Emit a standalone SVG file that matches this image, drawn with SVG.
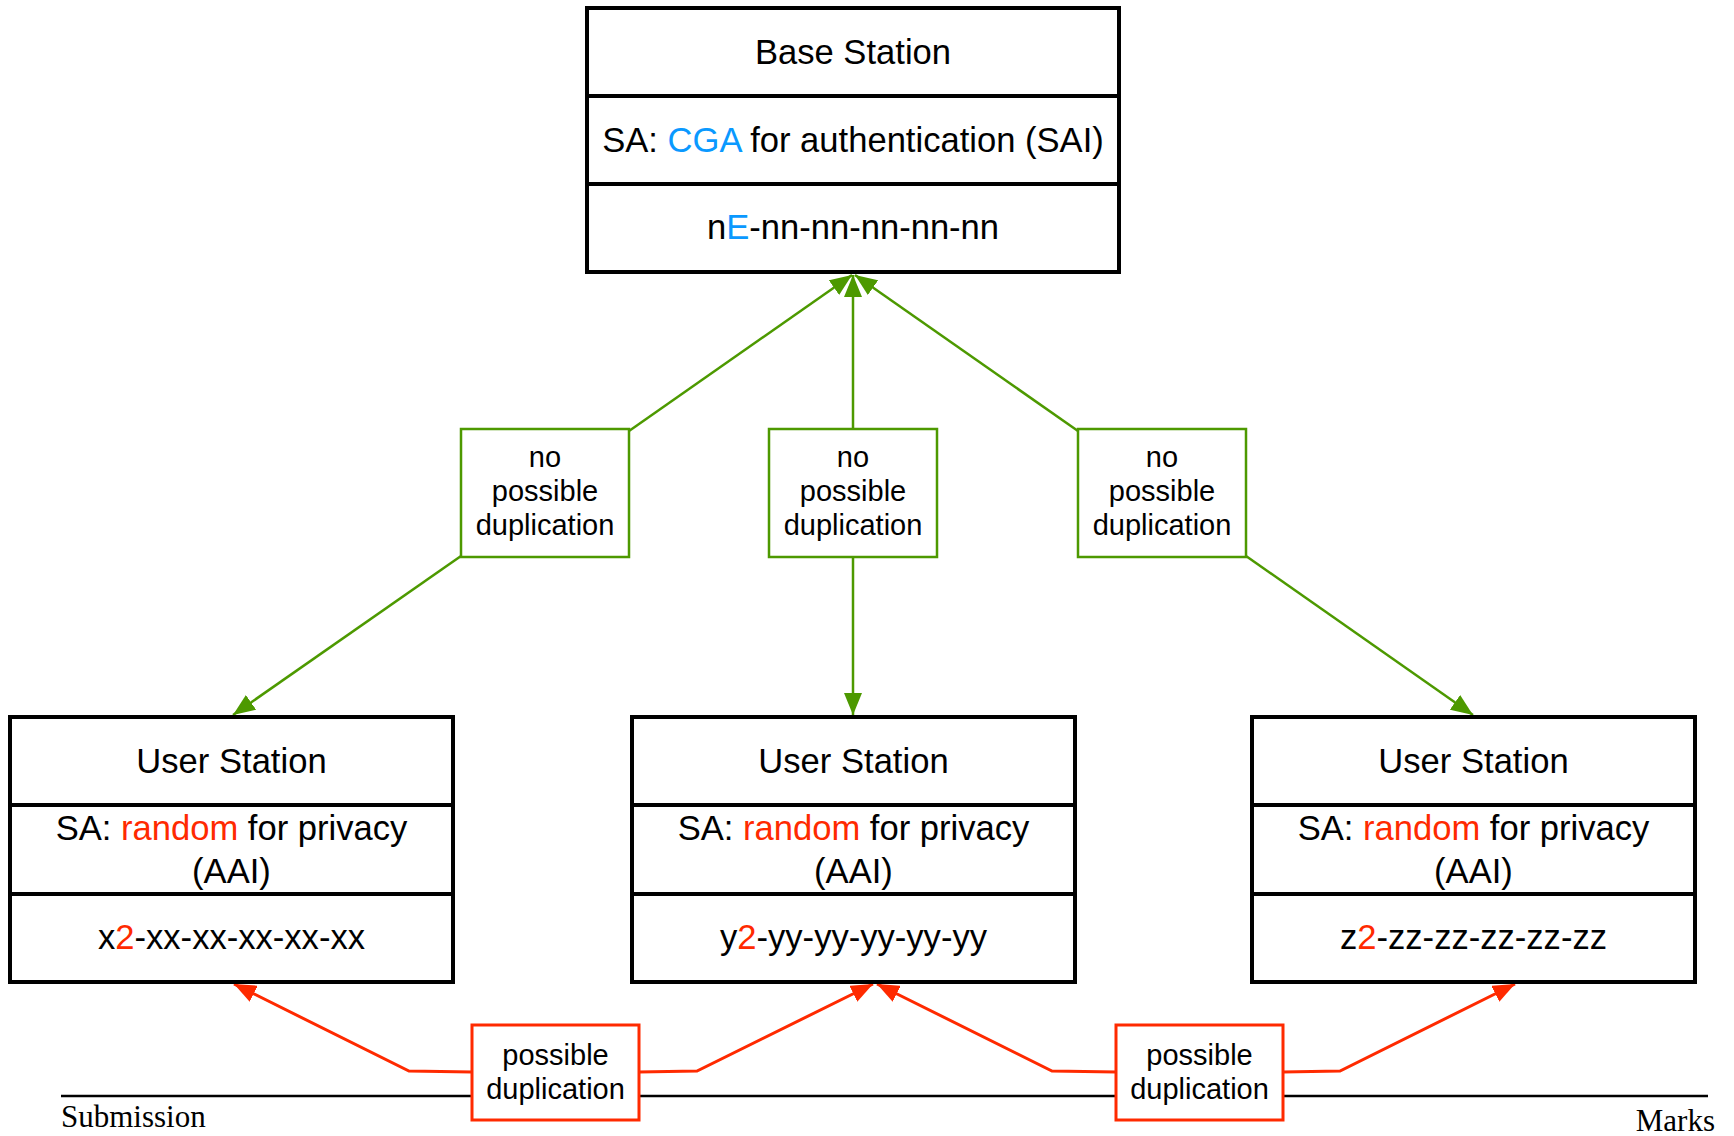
<svg xmlns="http://www.w3.org/2000/svg" width="1734" height="1136" viewBox="0 0 1734 1136">
  <style>
    .box { fill: #ffffff; stroke: #000000; stroke-width: 4; }
    .div { stroke: #000000; stroke-width: 4; }
    .t { font-family: "Liberation Sans", Arial, Helvetica, sans-serif; font-size: 34.6px; fill: #000000; text-anchor: middle; }
    .lbl { font-family: "Liberation Sans", Arial, Helvetica, sans-serif; font-size: 29px; fill: #000000; text-anchor: middle; }
    .blue { fill: #0A99FF; }
    .red { fill: #FF2A00; }
    .gbox { fill: #ffffff; stroke: #4D9900; stroke-width: 2.5; }
    .rbox { fill: #ffffff; stroke: #FF2A00; stroke-width: 3; }
    .gline { fill: none; stroke: #4D9900; stroke-width: 2.5; marker-end: url(#arrowG); }
    .rline { fill: none; stroke: #FF2A00; stroke-width: 3; marker-end: url(#arrowR); }
    .serif { font-family: "Liberation Serif", "Times New Roman", serif; font-size: 31px; fill: #000000; }
  </style>
  <defs>
    <marker id="arrowG" viewBox="0 0 22 18" refX="22" refY="9" markerWidth="22" markerHeight="18" markerUnits="userSpaceOnUse" orient="auto">
      <path d="M0,0 L22,9 L0,18 Z" fill="#4D9900"/>
    </marker>
    <marker id="arrowR" viewBox="0 0 22 18" refX="22" refY="9" markerWidth="22" markerHeight="18" markerUnits="userSpaceOnUse" orient="auto">
      <path d="M0,0 L22,9 L0,18 Z" fill="#FF2A00"/>
    </marker>
  </defs>

  <rect width="1734" height="1136" fill="#ffffff"/>

  <!-- page rule with footer texts -->
  <g id="page-rule">
    <line x1="61" y1="1096" x2="1708" y2="1096" stroke="#000000" stroke-width="2.5"/>
    <text class="serif" x="61" y="1127">Submission</text>
    <text class="serif" x="1715" y="1131" text-anchor="end">Marks</text>
  </g>

  <!-- connectors -->
  <g id="connectors">
    <line class="gline" x1="629" y1="431" x2="852" y2="275"/>
    <line class="gline" x1="853" y1="429" x2="853" y2="275"/>
    <line class="gline" x1="1078" y1="431" x2="855" y2="275"/>
    <line class="gline" x1="461" y1="556" x2="233" y2="715"/>
    <line class="gline" x1="853" y1="557" x2="853" y2="715"/>
    <line class="gline" x1="1246" y1="556" x2="1473" y2="715"/>
    <polyline class="rline" points="472,1072 409,1071 234,984"/>
    <polyline class="rline" points="639,1072 697,1071 873,984"/>
    <polyline class="rline" points="1116,1072 1052,1071 877,984"/>
    <polyline class="rline" points="1283,1072 1340,1071 1515,984"/>
  </g>

  <!-- base station -->
  <g id="base-station">
    <rect class="box" x="587" y="8" width="532" height="264"/>
    <line class="div" x1="587" y1="96" x2="1119" y2="96"/>
    <line class="div" x1="587" y1="184" x2="1119" y2="184"/>
    <text class="t" x="853" y="64">Base Station</text>
    <text class="t" x="853" y="152">SA: <tspan class="blue">CGA</tspan> for authentication (SAI)</text>
    <text class="t" x="853" y="239">n<tspan class="blue">E</tspan>-nn-nn-nn-nn-nn</text>
  </g>

  <!-- user stations -->
  <g id="user-station-x">
    <rect class="box" x="10" y="717" width="443" height="265"/>
    <line class="div" x1="10" y1="805" x2="453" y2="805"/>
    <line class="div" x1="10" y1="894" x2="453" y2="894"/>
    <text class="t" x="231.5" y="773">User Station</text>
    <text class="t" x="231.5" y="840">SA: <tspan class="red">random</tspan> for privacy</text>
    <text class="t" x="231.5" y="883">(AAI)</text>
    <text class="t" x="231.5" y="949">x<tspan class="red">2</tspan>-xx-xx-xx-xx-xx</text>
  </g>
  <g id="user-station-y">
    <rect class="box" x="632" y="717" width="443" height="265"/>
    <line class="div" x1="632" y1="805" x2="1075" y2="805"/>
    <line class="div" x1="632" y1="894" x2="1075" y2="894"/>
    <text class="t" x="853.5" y="773">User Station</text>
    <text class="t" x="853.5" y="840">SA: <tspan class="red">random</tspan> for privacy</text>
    <text class="t" x="853.5" y="883">(AAI)</text>
    <text class="t" x="853.5" y="949">y<tspan class="red">2</tspan>-yy-yy-yy-yy-yy</text>
  </g>
  <g id="user-station-z">
    <rect class="box" x="1252" y="717" width="443" height="265"/>
    <line class="div" x1="1252" y1="805" x2="1695" y2="805"/>
    <line class="div" x1="1252" y1="894" x2="1695" y2="894"/>
    <text class="t" x="1473.5" y="773">User Station</text>
    <text class="t" x="1473.5" y="840">SA: <tspan class="red">random</tspan> for privacy</text>
    <text class="t" x="1473.5" y="883">(AAI)</text>
    <text class="t" x="1473.5" y="949">z<tspan class="red">2</tspan>-zz-zz-zz-zz-zz</text>
  </g>

  <!-- no-duplication labels -->
  <g id="label-no-dup-left">
    <rect class="gbox" x="461" y="429" width="168" height="128"/>
    <text class="lbl" x="545" y="467">no</text>
    <text class="lbl" x="545" y="501">possible</text>
    <text class="lbl" x="545" y="535">duplication</text>
  </g>
  <g id="label-no-dup-mid">
    <rect class="gbox" x="769" y="429" width="168" height="128"/>
    <text class="lbl" x="853" y="467">no</text>
    <text class="lbl" x="853" y="501">possible</text>
    <text class="lbl" x="853" y="535">duplication</text>
  </g>
  <g id="label-no-dup-right">
    <rect class="gbox" x="1078" y="429" width="168" height="128"/>
    <text class="lbl" x="1162" y="467">no</text>
    <text class="lbl" x="1162" y="501">possible</text>
    <text class="lbl" x="1162" y="535">duplication</text>
  </g>

  <!-- possible-duplication labels -->
  <g id="label-dup-left">
    <rect class="rbox" x="472" y="1025" width="167" height="95"/>
    <text class="lbl" x="555.5" y="1065">possible</text>
    <text class="lbl" x="555.5" y="1099">duplication</text>
  </g>
  <g id="label-dup-right">
    <rect class="rbox" x="1116" y="1025" width="167" height="95"/>
    <text class="lbl" x="1199.5" y="1065">possible</text>
    <text class="lbl" x="1199.5" y="1099">duplication</text>
  </g>
</svg>
